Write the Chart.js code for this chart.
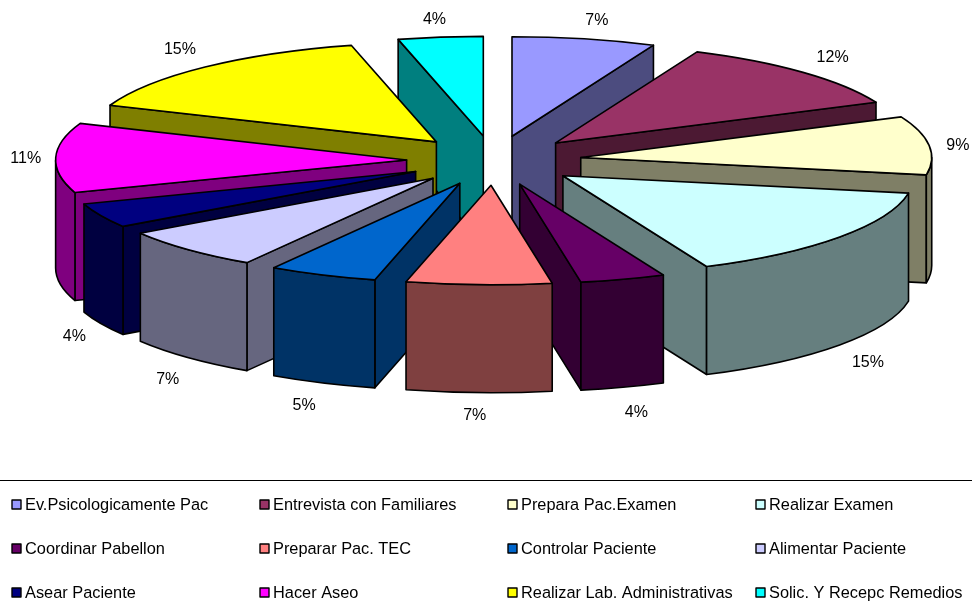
<!DOCTYPE html>
<html>
<head>
<meta charset="utf-8">
<title>Pie 3D</title>
<script src="https://cdn.jsdelivr.net/npm/chart.js@4"></script>
<style>
  html, body { margin: 0; padding: 0; background: #fff; }
  canvas { display: block; }
</style>
</head>
<body>
<canvas id="chart" width="972" height="615"></canvas>
<script>
// Data (shares estimated from the slice corners, labels round them)
const labels = [
  "Ev.Psicologicamente Pac", "Entrevista con Familiares", "Prepara Pac.Examen", "Realizar Examen",
  "Coordinar Pabellon", "Preparar Pac. TEC", "Controlar Paciente", "Alimentar Paciente",
  "Asear Paciente", "Hacer Aseo", "Realizar Lab. Administrativas", "Solic. Y Recepc Remedios"
];
const values = [6.6, 11.7, 9.49, 15.49, 3.92, 6.68, 5.0, 6.8, 4.0, 11.3, 15.1, 3.9];
const colors = [
  "#9999FF", "#993366", "#FFFFCC", "#CCFFFF", "#660066", "#FF8080",
  "#0066CC", "#CCCCFF", "#000080", "#FF00FF", "#FFFF00", "#00FFFF"
];
// Hand nudges for the percent labels, px
const labelNudgeX = [6, 7, -3, 3, 4, -3, -6, 2, 2, 2, -4, -2];
const labelNudgeY = [5, 2, 3, 3, 2, -1, 1, 5, 2, 1, 1, 6];

// Flattened pie geometry on the page
const PIE = { x: 494, y: 160.5, rx: 351, ry: 99.5, depth: 108, explode: 0.249 };
const FONT = "16px 'Liberation Sans', Arial, sans-serif";
const LEGEND_FONT = "16.35px 'Liberation Sans', Arial, sans-serif";

function halfColor(hex) {
  const r = parseInt(hex.slice(1,3),16) >> 1;
  const g = parseInt(hex.slice(3,5),16) >> 1;
  const b = parseInt(hex.slice(5,7),16) >> 1;
  return `rgb(${r},${g},${b})`;
}

function center(chart) {
  const a = chart.chartArea;
  return { x: (a.left + a.right) / 2, y: (a.top + a.bottom) / 2 };
}

// Where an arc element ends up on the page
function slice(chart, el) {
  const c = center(chart);
  const kx = PIE.rx / el.outerRadius, ky = PIE.ry / el.outerRadius;
  return {
    x: PIE.x + (el.x - c.x) * kx,
    y: PIE.y + (el.y - c.y) * ky,
    a0: el.startAngle,
    a1: el.endAngle,
    mid: (el.startAngle + el.endAngle) / 2
  };
}

function edgePoint(s, a) {
  return { x: s.x + Math.cos(a) * PIE.rx, y: s.y + Math.sin(a) * PIE.ry };
}

function paint(ctx, fill) {
  ctx.fillStyle = fill;
  ctx.fill();
  ctx.stroke();
}

function drawWalls(ctx, s, fill) {
  const d = PIE.depth;
  [[s.a0, Math.sin(s.a0 + Math.PI / 2) < 0], [s.a1, Math.sin(s.a1 + Math.PI / 2) > 0]].forEach(([a, show]) => {
    if (!show) return;
    const p = edgePoint(s, a);
    ctx.beginPath();
    ctx.moveTo(s.x, s.y);
    ctx.lineTo(p.x, p.y);
    ctx.lineTo(p.x, p.y + d);
    ctx.lineTo(s.x, s.y + d);
    ctx.closePath();
    paint(ctx, fill);
  });
  // Curved outer wall, front half only
  const from = Math.max(s.a0, 0), to = Math.min(s.a1, Math.PI);
  if (to > from) {
    ctx.beginPath();
    ctx.ellipse(s.x, s.y, PIE.rx, PIE.ry, 0, from, to);
    ctx.ellipse(s.x, s.y + d, PIE.rx, PIE.ry, 0, to, from, true);
    ctx.closePath();
    paint(ctx, fill);
  }
}

const pie3d = {
  id: "pie3d",
  // Pull the slices apart
  afterDatasetsUpdate(chart) {
    chart.getDatasetMeta(0).data.forEach(el => {
      const mid = (el.startAngle + el.endAngle) / 2;
      el.x += Math.cos(mid) * el.outerRadius * PIE.explode;
      el.y += Math.sin(mid) * el.outerRadius * PIE.explode;
    });
  },
  beforeDatasetsDraw(chart) {
    const { ctx } = chart;
    const arcs = chart.getDatasetMeta(0).data;
    const order = arcs.map((el, i) => ({ s: slice(chart, el), i }))
      .sort((p, q) => Math.sin(p.s.mid) - Math.sin(q.s.mid));
    ctx.save();
    ctx.strokeStyle = "#000";
    ctx.lineWidth = 1.6;
    ctx.lineJoin = "round";
    order.forEach(o => drawWalls(ctx, o.s, halfColor(colors[o.i])));
    ctx.restore();
    // The library paints the top faces through this squash
    const c = center(chart), r = arcs[0].outerRadius;
    ctx.save();
    ctx.translate(PIE.x, PIE.y);
    ctx.scale(PIE.rx / r, PIE.ry / r);
    ctx.translate(-c.x, -c.y);
  },
  afterDatasetsDraw(chart) {
    const { ctx } = chart;
    ctx.restore();
    const arcs = chart.getDatasetMeta(0).data;
    ctx.save();
    ctx.strokeStyle = "#000";
    ctx.lineWidth = 1.6;
    ctx.lineJoin = "round";
    arcs.forEach(el => {
      const s = slice(chart, el);
      ctx.beginPath();
      ctx.moveTo(s.x, s.y);
      ctx.ellipse(s.x, s.y, PIE.rx, PIE.ry, 0, s.a0, s.a1);
      ctx.closePath();
      ctx.stroke();
    });
    // Percent labels
    ctx.font = FONT;
    ctx.fillStyle = "#000";
    ctx.textAlign = "center";
    ctx.textBaseline = "middle";
    arcs.forEach((el, i) => {
      const s = slice(chart, el);
      const p = edgePoint(s, s.mid);
      const front = Math.sin(s.mid) > 0.1 ? PIE.depth : 0;
      ctx.fillText(Math.round(values[i]) + "%",
        p.x + Math.cos(s.mid) * 32 + labelNudgeX[i],
        p.y + Math.sin(s.mid) * 24 + front + labelNudgeY[i]);
    });
    // Legend box
    ctx.beginPath();
    ctx.moveTo(0, 480.5);
    ctx.lineTo(972, 480.5);
    ctx.lineWidth = 1;
    ctx.strokeStyle = "#000";
    ctx.stroke();
    ctx.font = LEGEND_FONT;
    ctx.textAlign = "left";
    ctx.lineWidth = 1.4;
    labels.forEach((t, i) => {
      const x = 12 + (i % 4) * 248, y = 505 + Math.floor(i / 4) * 44;
      ctx.fillStyle = colors[i];
      ctx.fillRect(x, y - 5, 9, 9);
      ctx.strokeRect(x, y - 5, 9, 9);
      ctx.fillStyle = "#000";
      ctx.fillText(t, x + 13, y);
    });
    ctx.restore();
  }
};

new Chart(document.getElementById("chart"), {
  type: "pie",
  data: {
    labels,
    datasets: [{
      data: values,
      backgroundColor: colors,
      borderWidth: 0,
      clip: false
    }]
  },
  options: {
    responsive: false,
    animation: false,
    layout: { padding: { bottom: 135 } },
    plugins: {
      legend: { display: false },
      tooltip: { enabled: false }
    }
  },
  plugins: [pie3d]
});
</script>
</body>
</html>
